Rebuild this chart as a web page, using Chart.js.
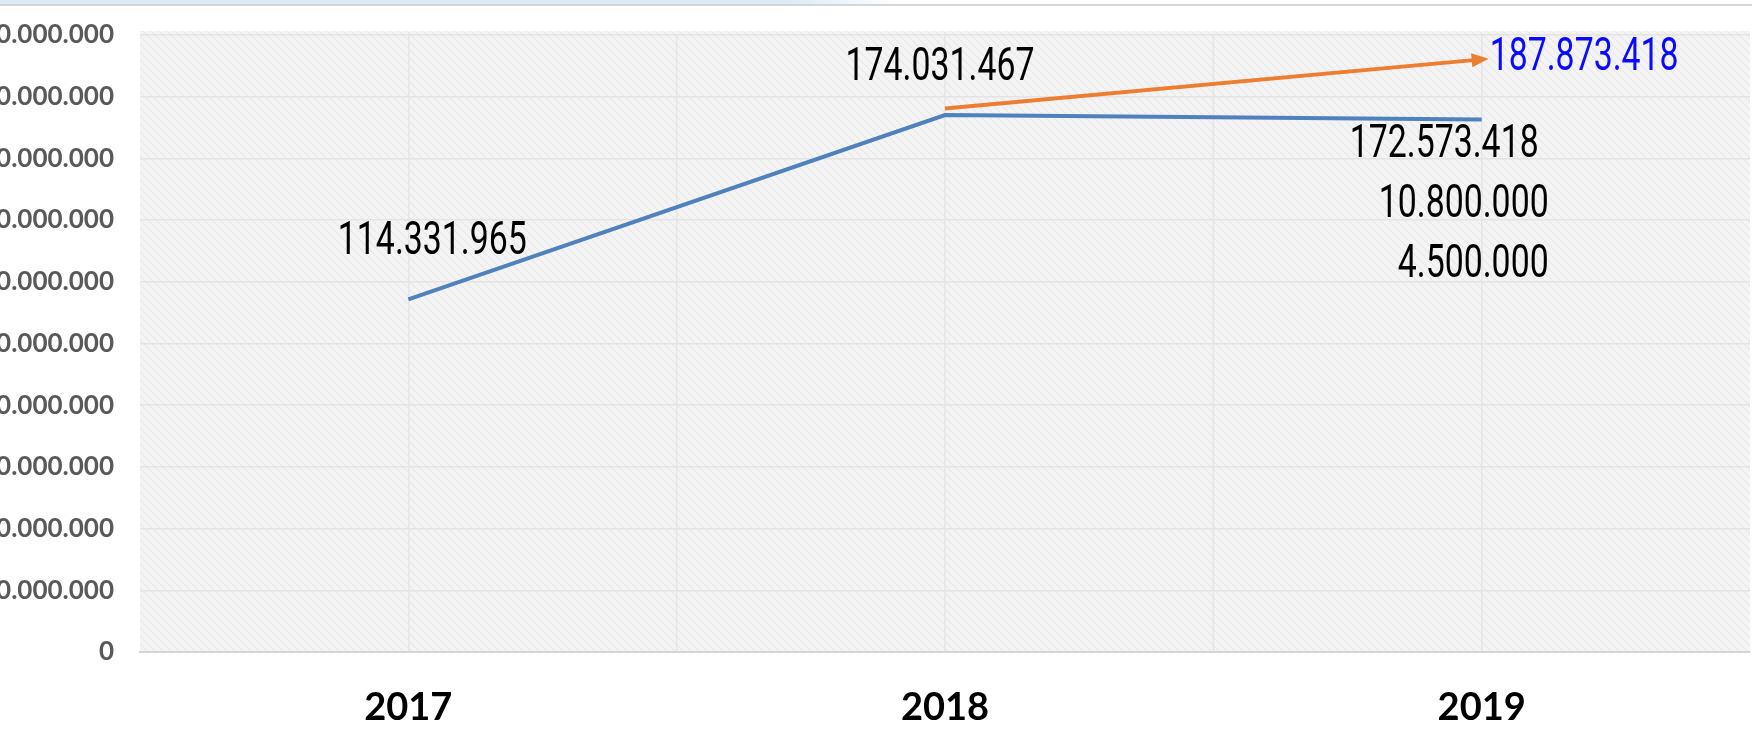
<!DOCTYPE html>
<html>
<head>
<meta charset="utf-8">
<script src="https://cdn.jsdelivr.net/npm/chart.js@4.4.1/dist/chart.umd.min.js"></script>
<style>
  body { margin: 0; background: #fff; overflow: hidden; width: 1752px; height: 744px; position: relative; }
  #banda { position: absolute; left: 0; top: 0; width: 900px; height: 4px; z-index: 2;
    background: linear-gradient(to right, #dcebf8 0%, #dcebf8 88%, rgba(220,235,248,0) 100%); }
  #linea { position: absolute; left: 0; top: 4px; width: 1752px; height: 2px; background: #d6d6d6; z-index: 2; }
  #caja { position: absolute; left: -40px; top: 0; width: 1792px; height: 744px; }
</style>
</head>
<body>
<div id="banda"></div>
<div id="linea"></div>
<div id="caja"><canvas id="grafico" width="1792" height="744"></canvas></div>
<script>
// datos
const anios = ["2017", "2018", "2019"];
const ejecutado = [114331965, 174031467, 172573418];
const proyeccion = [null, 176200000, 192100000]; // flecha naranja
const adicion1 = [null, null, 10800000];
const adicion2 = [null, null, 4500000];
const totalProyectado = 187873418;
const ticksY = [0, 20000000, 40000000, 60000000, 80000000, 100000000,
  120000000, 140000000, 160000000, 180000000, 200000000];

const formato = (n) => String(n).replace(/\B(?=(\d{3})+(?!\d))/g, ".");

// fondo con trama y lineas verticales entre categorias
const fondo = {
  id: "fondo",
  beforeDraw(chart) {
    const { ctx, chartArea: a } = chart;
    const p = document.createElement("canvas");
    p.width = 8; p.height = 8;
    const pc = p.getContext("2d");
    pc.fillStyle = "#f4f4f4";
    pc.fillRect(0, 0, 8, 8);
    pc.strokeStyle = "#eaeaea";
    pc.lineWidth = 1.5;
    pc.beginPath();
    pc.moveTo(0, 0); pc.lineTo(8, 8);
    pc.stroke();
    ctx.save();
    ctx.fillStyle = ctx.createPattern(p, "repeat");
    ctx.fillRect(a.left, a.top - 4, a.right - a.left, a.bottom - a.top + 4);
    const x = chart.scales.x;
    ctx.strokeStyle = "#e6e6e6";
    ctx.lineWidth = 1.5;
    for (let i = 0; i < anios.length - 1; i++) {
      const px = x.getPixelForValue(i + 0.5);
      ctx.beginPath();
      ctx.moveTo(px, a.top);
      ctx.lineTo(px, a.bottom);
      ctx.stroke();
    }
    ctx.restore();
  },
};

const etiquetas = {
  id: "etiquetas",
  afterDatasetsDraw(chart) {
    const ctx = chart.ctx;
    const azul = chart.getDatasetMeta(0).data;
    const naranja = chart.getDatasetMeta(1).data;
    // punta de flecha
    const p1 = naranja[1], p2 = naranja[2];
    const ang = Math.atan2(p2.y - p1.y, p2.x - p1.x);
    const tx = p2.x + 7 * Math.cos(ang), ty = p2.y + 7 * Math.sin(ang);
    ctx.save();
    ctx.fillStyle = "#ED7D31";
    ctx.translate(tx, ty);
    ctx.rotate(ang);
    ctx.beginPath();
    ctx.moveTo(0, 0);
    ctx.lineTo(-17, -7);
    ctx.lineTo(-17, 7);
    ctx.closePath();
    ctx.fill();
    ctx.restore();

    ctx.save();
    ctx.font = "46px Roboto";
    const sx = 189 / ctx.measureText("114.331.965").width;
    const txt = (t, x, y, align, color) => {
      ctx.save();
      ctx.translate(x, y);
      ctx.scale(sx, 1);
      ctx.textAlign = align;
      ctx.textBaseline = "middle";
      ctx.fillStyle = color;
      ctx.fillText(t, 0, 0);
      ctx.restore();
    };
    txt(formato(ejecutado[0]), azul[0].x + 24, azul[0].y - 57, "center", "#000");
    txt(formato(ejecutado[1]), azul[1].x - 5, azul[1].y - 47, "center", "#000");
    txt(formato(ejecutado[2]), azul[2].x + 57, azul[2].y + 26, "right", "#000");
    txt(formato(adicion1[2]), azul[2].x + 67, azul[2].y + 86, "right", "#000");
    txt(formato(adicion2[2]), azul[2].x + 67, azul[2].y + 146, "right", "#000");
    txt(formato(totalProyectado), tx + 1, ty, "left", "#0a0aff");
    ctx.restore();
  },
};

const config = {
  type: "line",
  data: {
    labels: anios,
    datasets: [
      { label: "Ejecutado", data: ejecutado, borderColor: "#4F81BD", borderWidth: 4,
        pointRadius: 0, tension: 0 },
      { label: "Proyeccion", data: proyeccion, borderColor: "#ED7D31", borderWidth: 4,
        pointRadius: 0, tension: 0 },
      { label: "Adicion 1", data: adicion1, showLine: false, pointRadius: 0 },
      { label: "Adicion 2", data: adicion2, showLine: false, pointRadius: 0 },
    ],
  },
  options: {
    responsive: false,
    devicePixelRatio: 1,
    animation: false,
    layout: { padding: { top: 35, right: 2, bottom: 16, left: 0 } },
    plugins: { legend: { display: false }, tooltip: { enabled: false } },
    scales: {
      x: {
        offset: true,
        afterFit: (s) => { s.height = 76; },
        grid: { offset: false, color: "#e6e6e6", lineWidth: 1.5, drawTicks: false },
        border: { color: "#d5d5d5", width: 2 },
        ticks: { padding: 33, color: "#000", font: { family: "Lato", weight: "bold", size: 38 } },
      },
      y: {
        min: 0,
        max: 200000000,
        afterBuildTicks: (s) => { s.ticks = ticksY.map((v) => ({ value: v })); },
        afterFit: (s) => { s.width = 180; s.paddingTop = 0; s.paddingBottom = 0; },
        grid: { color: "#e4e4e4", lineWidth: 1.5, drawTicks: false },
        border: { display: false },
        ticks: {
          padding: 26,
          color: "#595959",
          font: { family: "Lato", weight: "bold", size: 26 },
          callback: (v) => formato(v),
        },
      },
    },
  },
  plugins: [fondo, etiquetas],
};

const graficoElement = document.getElementById("grafico");
var grafico = new Chart(graficoElement, config);
</script>
</body>
</html>
